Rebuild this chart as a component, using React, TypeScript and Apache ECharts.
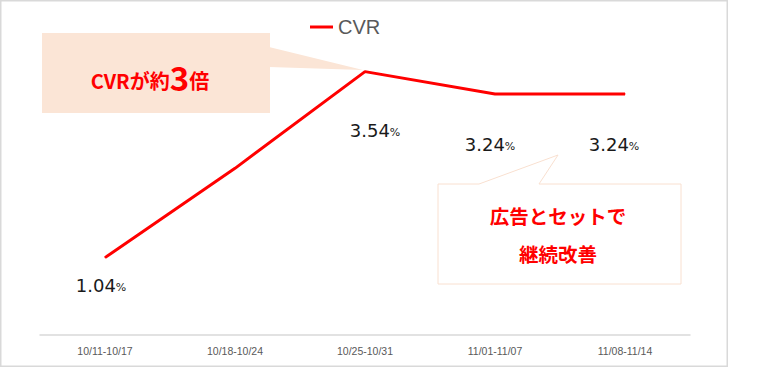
import React, { useEffect, useRef } from "react";
import * as echarts from "echarts";

const categories = ["10/11-10/17", "10/18-10/24", "10/25-10/31", "11/01-11/07", "11/08-11/14"];
const cvrValues = [1.04, 2.24, 3.54, 3.24, 3.24];
const labelShown = [true, false, true, true, true];
const seriesName = "CVR";
const note1Parts = ["CVRが約", "3", "倍"];
const note2Lines = ["広告とセットで", "継続改善"];

// label offsets (style only)
const labelOffsets: [number, number][] = [
  [-4, 28],
  [0, 0],
  [10, 59],
  [-5, 51],
  [-11, 51],
];

export default function App() {
  const ref = useRef<HTMLDivElement>(null);
  useEffect(() => {
    if (!ref.current) return;
    const chart = echarts.init(ref.current, undefined, { renderer: "svg" });
    const data = cvrValues.map((v, i) => ({
      value: v,
      label: {
        show: labelShown[i],
        offset: labelOffsets[i],
      },
    }));
    chart.setOption({
      animation: false,
      backgroundColor: "#ffffff",
      grid: { left: 40, right: 68, top: 37.4, bottom: 32, containLabel: false },
      legend: {
        left: 305,
        top: 12,
        itemWidth: 23,
        itemHeight: 3,
        itemGap: 10,
        data: [{ name: seriesName, icon: "rect" }],
        textStyle: { color: "#595959", fontSize: 20, fontFamily: "Liberation Sans" },
      },
      xAxis: {
        type: "category",
        data: categories,
        boundaryGap: true,
        axisLine: { lineStyle: { color: "#d9d9d9", width: 1.5 } },
        axisTick: { show: false },
        axisLabel: {
          color: "#595959",
          fontSize: 10.5,
          margin: 10,
          fontFamily: "Liberation Sans Narrow, Liberation Sans, sans-serif",
        },
      },
      yAxis: { type: "value", min: 0, max: 4, show: false, splitLine: { show: false } },
      series: [
        {
          name: seriesName,
          type: "line",
          data,
          symbol: "circle",
          symbolSize: 1,
          showSymbol: true,
          itemStyle: { color: "#ff0000" },
          lineStyle: { color: "#ff0000", width: 3 },
          z: 3,
          label: {
            show: true,
            position: "inside",
            formatter: (p: any) => `{a|${p.value.toFixed(2)}}{b|%}`,
            rich: {
              a: { fontSize: 18, color: "#1a1a1a", fontFamily: "DejaVu Sans" },
              b: { fontSize: 11, color: "#1a1a1a", fontFamily: "DejaVu Sans", padding: [3, 0, 0, 0] },
            },
          },
        },
      ],
      graphic: [
        {
          type: "rect",
          z: 0,
          shape: { x: 0.75, y: 0.75, width: 726.5, height: 365.5 },
          style: { fill: "none", stroke: "#d9d9d9", lineWidth: 1.5 },
          silent: true,
        },
        {
          type: "rect",
          z: 0,
          shape: { x: 42, y: 33, width: 228, height: 80 },
          style: { fill: "#fbe5d6" },
        },
        {
          type: "polygon",
          z: 0,
          shape: { points: [[269, 47], [363, 70], [269, 67]] },
          style: { fill: "#fbe5d6" },
        },
        {
          type: "text",
          z: 5,
          x: 150,
          y: 77,
          style: {
            text: `{s|${note1Parts[0]}}{l|${note1Parts[1]}}{s|${note1Parts[2]}}`,
            align: "center",
            verticalAlign: "middle",
            rich: {
              s: { fontSize: 20, fontWeight: "bold", fill: "#ff0000", fontFamily: "Noto Sans CJK JP", padding: [7, 0, 0, 0] },
              l: { fontSize: 33, fontWeight: "bold", fill: "#ff0000", fontFamily: "Noto Sans CJK JP" },
            },
          },
        },
        {
          type: "polygon",
          z: 0,
          shape: {
            points: [
              [438, 184],
              [479, 184],
              [558, 155],
              [539, 184],
              [681, 184],
              [681, 284],
              [438, 284],
            ],
          },
          style: { fill: "#ffffff", stroke: "#f9e0d0", lineWidth: 1 },
        },
        {
          type: "text",
          z: 5,
          x: 558,
          y: 215,
          style: {
            text: note2Lines[0],
            align: "center",
            verticalAlign: "middle",
            fontSize: 19.5,
            fontWeight: "bold",
            fill: "#ff0000",
            fontFamily: "Noto Sans CJK JP",
          },
        },
        {
          type: "text",
          z: 5,
          x: 558,
          y: 253,
          style: {
            text: note2Lines[1],
            align: "center",
            verticalAlign: "middle",
            fontSize: 19.5,
            fontWeight: "bold",
            fill: "#ff0000",
            fontFamily: "Noto Sans CJK JP",
          },
        },
      ],
    });
    return () => chart.dispose();
  }, []);
  return <div ref={ref} style={{ position: "fixed", left: 0, top: 0, width: 758, height: 367 }} />;
}
